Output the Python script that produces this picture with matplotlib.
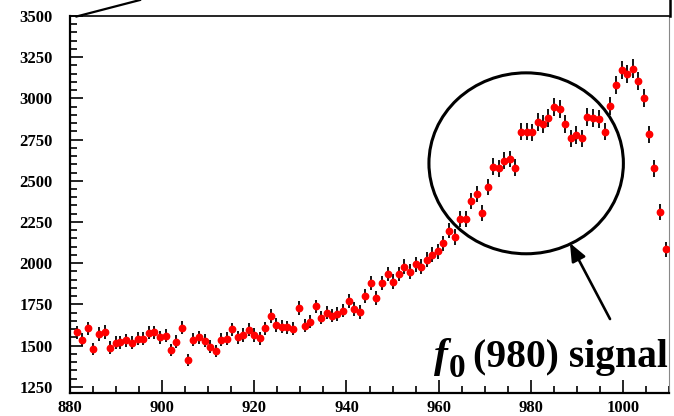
import numpy as np
import matplotlib.pyplot as plt
from matplotlib.patches import Ellipse
from matplotlib.lines import Line2D
from matplotlib.ticker import MultipleLocator

# ============================================================
# Data
# ============================================================

mass = [881.5, 882.6, 883.8, 885.0, 886.3, 887.5, 888.6, 889.9, 890.8, 892.2,
        893.5, 894.8, 895.9, 897.1, 898.3, 899.6, 900.8, 902.0, 903.1, 904.4,
        905.6, 906.8, 908.0, 909.2, 910.4, 911.6, 912.8, 914.0, 915.2, 916.4,
        917.5, 918.8, 920.0, 921.2, 922.4, 923.6, 924.8, 926.0, 927.2, 928.4,
        929.6, 930.9, 932.0, 933.3, 934.5, 935.7, 936.9, 938.0, 939.3, 940.5,
        941.7, 942.9, 944.1, 945.4, 946.5, 947.8, 949.0, 950.2, 951.4, 952.5,
        953.8, 955.0, 956.2, 957.4, 958.6, 959.8, 961.0, 962.2, 963.5, 964.6,
        965.9, 967.0, 968.3, 969.5, 970.7, 971.9, 973.1, 974.2, 975.4, 976.6,
        977.8, 979.1, 980.2, 981.5, 982.7, 983.8, 985.1, 986.3, 987.5, 988.7,
        989.9, 991.1, 992.3, 993.6, 994.8, 996.1, 997.2, 998.5, 999.7, 1000.9,
        1002.1, 1003.3, 1004.5, 1005.7, 1006.8, 1008.1, 1009.3]

counts = [1581, 1534, 1605, 1479, 1570, 1582, 1487, 1518, 1520, 1532,
          1518, 1540, 1540, 1578, 1581, 1550, 1560, 1473, 1524, 1609,
          1413, 1534, 1550, 1528, 1493, 1467, 1534, 1540, 1599, 1550,
          1564, 1595, 1564, 1544, 1605, 1680, 1625, 1615, 1610, 1601,
          1726, 1620, 1645, 1737, 1669, 1700, 1681, 1690, 1712, 1772,
          1721, 1704, 1802, 1878, 1787, 1880, 1934, 1888, 1934, 1979,
          1948, 1993, 1979, 2022, 2052, 2073, 2121, 2197, 2159, 2267,
          2267, 2379, 2420, 2306, 2464, 2586, 2576, 2623, 2632, 2580,
          2798, 2798, 2794, 2855, 2843, 2879, 2946, 2934, 2843, 2758,
          2778, 2758, 2885, 2882, 2875, 2798, 2954, 3081, 3172, 3148,
          3181, 3107, 3005, 2782, 2576, 2312, 2084]

mass = np.array(mass)
counts = np.array(counts)
errors = np.sqrt(counts)   # statistical errors

# ============================================================
# Plot
# ============================================================

plt.rcParams['font.family'] = ['Liberation Serif', 'DejaVu Serif']
plt.rcParams['font.weight'] = 'bold'

W, H = 674, 416
fig = plt.figure(figsize=(W / 100, H / 100), dpi=100)
ax = fig.add_axes([70 / W, 1 - 393 / H, 599 / W, 377 / H])

ax.errorbar(mass, counts, yerr=errors, fmt='o', color='red',
            markersize=4.6, mec='red', ecolor='black', elinewidth=1.3,
            capsize=0, zorder=3)

ax.set_xlim(880, 1010)
ax.set_ylim(1212, 3500)

ax.xaxis.set_major_locator(MultipleLocator(20))
ax.xaxis.set_minor_locator(MultipleLocator(5))
ax.yaxis.set_major_locator(MultipleLocator(250))
ax.yaxis.set_minor_locator(MultipleLocator(50))

ax.tick_params(which='both', direction='in', top=False, right=False,
               width=1.2, color='black')
ax.tick_params(which='major', length=9.5)
ax.tick_params(which='minor', length=4.8)
ax.tick_params(axis='y', which='major', pad=12.5, labelsize=12)
ax.tick_params(axis='x', which='major', pad=5, labelsize=12)

for lab in ax.get_xticklabels() + ax.get_yticklabels():
    lab.set_fontweight('bold')

ax.spines['left'].set_linewidth(1.6)
ax.spines['bottom'].set_linewidth(1.6)
ax.spines['top'].set_linewidth(1.2)
ax.spines['right'].set_linewidth(0.8)
ax.spines['right'].set_color('#888888')

# circle around the signal region
ax.add_patch(Ellipse((979.0, 2606), 42.2, 1098, fill=False,
                     edgecolor='black', linewidth=2.2, clip_on=False, zorder=4))

# arrow
ax.annotate('', xy=(988.5, 2122), xytext=(997.2, 1661),
            arrowprops=dict(arrowstyle='-|>,head_length=0.6,head_width=0.25',
                            mutation_scale=18, color='black', lw=1.9,
                            shrinkA=0, shrinkB=0),
            annotation_clip=False)

# label
def fx(px):
    return px / W

def fy(py):
    return 1 - py / H

fig.text(fx(434), fy(367), 'f', fontsize=30, fontstyle='italic',
         fontweight='bold', va='baseline')
fig.text(fx(449), fy(377), '0', fontsize=24, fontweight='bold',
         va='baseline')
fig.text(fx(473), fy(367), '(980) signal', fontsize=28.5, fontweight='bold',
         va='baseline')

# pieces of the surrounding frame
fig.add_artist(Line2D([fx(76.5), fx(140)], [fy(16.5), fy(0)],
                      color='black', lw=1.6))
fig.add_artist(Line2D([fx(669.5), fx(669.5)], [fy(0), fy(16)],
                      color='black', lw=1.8))

plt.savefig('out.png', dpi=100)
